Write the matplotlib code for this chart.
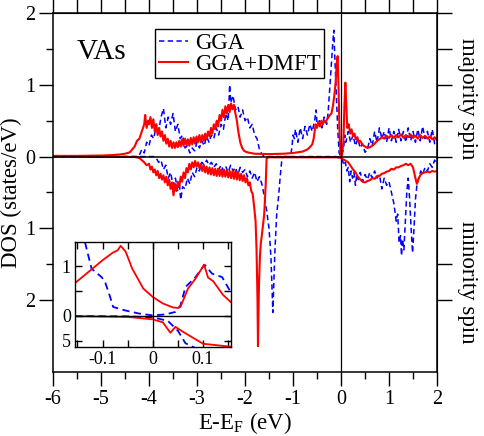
import matplotlib
matplotlib.use("Agg")
import matplotlib.pyplot as plt

plt.rcParams['font.family'] = 'serif'
plt.rcParams['font.serif'] = ['Liberation Serif', 'Times New Roman', 'DejaVu Serif']
plt.rcParams['mathtext.fontset'] = 'custom'
plt.rcParams['mathtext.rm'] = 'Liberation Serif'

# ---- majority spin, GGA (blue dashed)
gga_up_e = [-6.0, -4.25, -4.2, -4.15, -4.1, -4.05, -4.0, -3.95, -3.9, -3.85, -3.8, -3.75,
            -3.7, -3.65, -3.6, -3.55, -3.5, -3.45, -3.4, -3.35, -3.3, -3.25, -3.2, -3.15,
            -3.1, -3.05, -3.0, -2.95, -2.9, -2.85, -2.8, -2.75, -2.7, -2.65, -2.6, -2.55,
            -2.5, -2.45, -2.4, -2.35, -2.32, -2.3, -2.25, -2.2, -2.15, -2.1, -2.05, -2.0,
            -1.95, -1.9, -1.85, -1.8, -1.75, -1.7, -1.65, -1.6, -1.05, -1.02, -1.0, -0.97,
            -0.95, -0.9, -0.85, -0.8, -0.75, -0.7, -0.65, -0.6, -0.55, -0.52, -0.5, -0.45,
            -0.4, -0.35, -0.3, -0.27, -0.24, -0.2, -0.17, -0.15, -0.13, -0.1, -0.07, -0.04,
            0.0, 0.05, 0.08, 0.1, 0.15, 0.2, 0.25, 0.3, 0.35, 0.4, 0.45, 0.5, 0.55, 0.6,
            0.65, 0.7, 0.75, 0.8, 0.85, 0.9, 0.95, 1.0, 1.05, 1.1, 1.15, 1.2, 1.25, 1.3,
            1.35, 1.4, 1.45, 1.5, 1.55, 1.6, 1.65, 1.7, 1.75, 1.8, 1.85, 1.9, 1.95, 2.0]
gga_up_dos = [0.0, 0.0, 0.02, 0.1, 0.05, 0.2, 0.15, 0.3, 0.25, 0.45, 0.35, 0.55,
              0.67, 0.4, 0.55, 0.45, 0.6, 0.35, 0.45, 0.25, 0.3, 0.12, 0.15, 0.05,
              0.12, 0.08, 0.2, 0.12, 0.22, 0.15, 0.28, 0.2, 0.3, 0.25, 0.4, 0.3,
              0.45, 0.38, 0.6, 0.5, 1.0, 0.75, 0.85, 0.65, 0.7, 0.55, 0.65, 0.5,
              0.55, 0.4, 0.45, 0.3, 0.25, 0.1, 0.04, 0.0, 0.0, 0.15, 0.3, 0.25,
              0.38, 0.2, 0.4, 0.25, 0.42, 0.3, 0.45, 0.35, 0.5, 0.65, 0.45, 0.5,
              0.4, 0.55, 0.45, 0.6, 0.9, 1.3, 1.6, 1.76, 1.4, 0.9, 0.4, 0.05,
              0.0, 0.1, 0.3, 0.2, 0.35, 0.2, 0.3, 0.15, 0.25, 0.12, 0.18, 0.06, 0.1, 0.25,
              0.15, 0.35, 0.2, 0.4, 0.25, 0.35, 0.2, 0.4, 0.22, 0.35, 0.2, 0.38, 0.22, 0.35,
              0.2, 0.4, 0.22, 0.35, 0.2, 0.38, 0.22, 0.42, 0.25, 0.35, 0.2, 0.38, 0.18, 0.25]

# ---- majority spin, GGA+DMFT (red)
dmft_up_e = [-6.0, -5.5, -5.0, -4.8, -4.6, -4.5, -4.4, -4.35, -4.3, -4.25, -4.2, -4.15,
             -4.1, -4.08, -4.05, -4.02, -4.0, -3.97, -3.94, -3.91, -3.88, -3.85, -3.82,
             -3.79, -3.76, -3.73, -3.7, -3.67, -3.64, -3.61, -3.58, -3.55, -3.52, -3.49,
             -3.46, -3.43, -3.4, -3.37, -3.34, -3.31, -3.28, -3.25, -3.22, -3.19, -3.16,
             -3.13, -3.1, -3.07, -3.04, -3.01, -2.98, -2.95, -2.92, -2.89, -2.86, -2.83,
             -2.8, -2.77, -2.74, -2.71, -2.68, -2.65, -2.62, -2.59, -2.56, -2.53, -2.5,
             -2.47, -2.44, -2.41, -2.38, -2.35, -2.32, -2.29, -2.26, -2.23, -2.2, -2.17,
             -2.14, -2.1, -2.06, -2.02, -1.96, -1.8, -1.5, -1.2, -1.0, -0.8, -0.7, -0.65,
             -0.6, -0.57, -0.55, -0.53, -0.5, -0.47, -0.44, -0.41, -0.38, -0.35, -0.32,
             -0.29, -0.26, -0.23, -0.2, -0.17, -0.14, -0.11, -0.09, -0.07, -0.05, -0.03,
             -0.01, 0.02, 0.05, 0.07, 0.09, 0.11, 0.13, 0.16, 0.19, 0.22, 0.25, 0.28,
             0.31, 0.34, 0.37, 0.4, 0.45, 0.5, 0.55, 0.6, 0.65, 0.7, 0.75, 0.8, 0.85,
             0.9, 0.95, 1.0, 1.05, 1.1, 1.15, 1.2, 1.25, 1.3, 1.35, 1.4, 1.45, 1.5,
             1.55, 1.6, 1.65, 1.7, 1.75, 1.8, 1.85, 1.9, 1.95, 2.0]
dmft_up_dos = [0.01, 0.01, 0.015, 0.02, 0.03, 0.04, 0.06, 0.1, 0.14, 0.22, 0.25, 0.35,
               0.45, 0.58, 0.4, 0.5, 0.45, 0.55, 0.4, 0.52, 0.35, 0.45, 0.3,
               0.4, 0.28, 0.35, 0.22, 0.3, 0.18, 0.25, 0.14, 0.22, 0.12, 0.2,
               0.12, 0.2, 0.13, 0.22, 0.14, 0.24, 0.15, 0.25, 0.16, 0.24, 0.15,
               0.26, 0.17, 0.27, 0.18, 0.28, 0.2, 0.3, 0.2, 0.3, 0.22, 0.32,
               0.25, 0.35, 0.28, 0.4, 0.32, 0.45, 0.38, 0.5, 0.42, 0.58, 0.5,
               0.65, 0.55, 0.7, 0.6, 0.72, 0.62, 0.74, 0.66, 0.72, 0.6, 0.5,
               0.35, 0.2, 0.12, 0.08, 0.06, 0.04, 0.035, 0.04, 0.05, 0.07, 0.1, 0.13,
               0.17, 0.25, 0.35, 0.45, 0.4, 0.48, 0.42, 0.5, 0.45, 0.5, 0.48,
               0.52, 0.55, 0.58, 0.6, 0.7, 0.85, 1.05, 1.3, 1.4, 0.9, 0.3,
               0.02, 0.02, 0.2, 0.7, 1.03, 0.7, 0.4, 0.45, 0.32, 0.38, 0.28, 0.32,
               0.24, 0.27, 0.2, 0.22, 0.16, 0.14, 0.12, 0.13, 0.15, 0.18, 0.22, 0.24, 0.27,
               0.25, 0.29, 0.26, 0.3, 0.26, 0.3, 0.27, 0.31, 0.26, 0.3, 0.27, 0.31, 0.26,
               0.29, 0.25, 0.3, 0.26, 0.29, 0.25, 0.28, 0.24, 0.27, 0.23]

# ---- minority spin, GGA (plotted negative)
gga_dn_e = [-6.0, -3.9, -3.85, -3.8, -3.75, -3.7, -3.65, -3.6, -3.55, -3.5, -3.45, -3.4,
            -3.37, -3.34, -3.3, -3.25, -3.2, -3.15, -3.1, -3.05, -3.0, -2.95, -2.9, -2.85,
            -2.8, -2.75, -2.7, -2.65, -2.6, -2.55, -2.5, -2.45, -2.4, -2.35, -2.3, -2.25,
            -2.2, -2.15, -2.1, -2.05, -2.0, -1.95, -1.9, -1.85, -1.8, -1.75, -1.7, -1.65,
            -1.6, -1.55, -1.5, -1.46, -1.42, -1.38, -1.34, -1.3, -1.27, -1.23, -1.2, -0.1,
            -0.05, 0.0, 0.03, 0.06, 0.09, 0.12, 0.15, 0.18, 0.21, 0.24, 0.27, 0.3, 0.33,
            0.36, 0.4, 0.45, 0.5, 0.55, 0.6, 0.65, 0.7, 0.75, 0.8, 0.85, 0.9, 0.95, 1.0,
            1.05, 1.1, 1.15, 1.18, 1.21, 1.24, 1.26, 1.28, 1.31, 1.34, 1.37, 1.4, 1.43,
            1.46, 1.49, 1.52, 1.55, 1.58, 1.62, 1.66, 1.7, 1.75, 1.8, 1.85, 1.9, 1.95, 2.0]
gga_dn_dos = [0.0, 0.0, -0.02, -0.08, -0.05, -0.18, -0.12, -0.3, -0.22, -0.4, -0.3, -0.48,
              -0.35, -0.6, -0.42, -0.45, -0.3, -0.38, -0.22, -0.28, -0.15, -0.2, -0.08, -0.12,
              -0.05, -0.12, -0.08, -0.15, -0.1, -0.18, -0.12, -0.2, -0.14, -0.22, -0.12, -0.2,
              -0.15, -0.25, -0.15, -0.22, -0.18, -0.28, -0.2, -0.3, -0.22, -0.35, -0.28, -0.38,
              -0.55, -0.75, -1.0, -1.4, -2.17, -1.35, -0.8, -0.55, -0.3, -0.02, 0.0, 0.0,
              -0.02, -0.02, -0.05, -0.12, -0.08, -0.2, -0.15, -0.35, -0.2, -0.3, -0.22, -0.4, -0.25,
              -0.32, -0.22, -0.35, -0.25, -0.32, -0.22, -0.3, -0.2, -0.3, -0.25, -0.45, -0.3, -0.4, -0.35,
              -0.5, -0.65, -0.9, -0.8, -1.2, -1.1, -1.38, -1.15, -1.3, -0.9, -0.5, -0.3, -0.6,
              -1.0, -1.34, -1.0, -0.6, -0.4, -0.3, -0.2, -0.25, -0.15, -0.2, -0.1, -0.15, -0.05, -0.1]

# ---- minority spin, GGA+DMFT (plotted negative)
dmft_dn_e = [-6.0, -4.3, -4.2, -4.15, -4.1, -4.05, -4.0, -3.97, -3.94, -3.91, -3.88, -3.85,
             -3.82, -3.79, -3.76, -3.73, -3.7, -3.67, -3.64, -3.61, -3.58, -3.55, -3.52,
             -3.49, -3.46, -3.43, -3.4, -3.37, -3.34, -3.31, -3.28, -3.25, -3.22, -3.19,
             -3.16, -3.13, -3.1, -3.07, -3.04, -3.01, -2.98, -2.95, -2.92, -2.89, -2.86,
             -2.83, -2.8, -2.77, -2.74, -2.71, -2.68, -2.65, -2.62, -2.59, -2.56, -2.53,
             -2.5, -2.47, -2.44, -2.41, -2.38, -2.35, -2.32, -2.29, -2.26, -2.23, -2.2,
             -2.17, -2.14, -2.11, -2.08, -2.05, -2.02, -1.99, -1.96, -1.93, -1.9, -1.87,
             -1.84, -1.81, -1.78, -1.76, -1.74, -1.73, -1.71, -1.69, -1.67, -1.65, -1.63,
             -1.6, -1.57, -1.55, -1.5, -0.05, 0.0, 0.05, 0.1, 0.15, 0.2, 0.25, 0.3, 0.35,
             0.4, 0.45, 0.5, 0.55, 0.6, 0.65, 0.7, 0.75, 0.8, 0.85, 0.9, 0.95, 1.0, 1.05,
             1.1, 1.15, 1.2, 1.25, 1.3, 1.35, 1.4, 1.45, 1.5, 1.55, 1.58, 1.62, 1.66, 1.7,
             1.75, 1.8, 1.85, 1.9, 1.95, 2.0]
dmft_dn_dos = [-0.002, -0.005, -0.02, -0.05, -0.08, -0.12, -0.1, -0.18, -0.14, -0.22, -0.18, -0.26,
               -0.2, -0.3, -0.24, -0.32, -0.26, -0.36, -0.28, -0.4, -0.32, -0.45, -0.36,
               -0.54, -0.38, -0.48, -0.35, -0.42, -0.28, -0.35, -0.22, -0.3, -0.16, -0.22,
               -0.1, -0.18, -0.08, -0.15, -0.06, -0.14, -0.08, -0.16, -0.1, -0.2, -0.12,
               -0.22, -0.14, -0.24, -0.15, -0.25, -0.16, -0.26, -0.17, -0.27, -0.17, -0.27,
               -0.18, -0.28, -0.18, -0.28, -0.19, -0.29, -0.2, -0.3, -0.2, -0.31, -0.2,
               -0.32, -0.22, -0.33, -0.24, -0.34, -0.26, -0.36, -0.3, -0.4, -0.36, -0.48,
               -0.52, -0.7, -0.9, -1.3, -2.0, -2.64, -1.8, -1.4, -1.2, -1.1, -0.98,
               -0.8, -0.4, -0.02, -0.01, -0.01, -0.02, -0.04, -0.06, -0.08, -0.13, -0.18, -0.22, -0.28,
               -0.32, -0.35, -0.36, -0.34, -0.33, -0.3, -0.31, -0.27, -0.27, -0.24, -0.23, -0.21, -0.2, -0.17,
               -0.18, -0.15, -0.15, -0.13, -0.12, -0.1, -0.12, -0.1, -0.15, -0.3, -0.38, -0.3, -0.25, -0.23,
               -0.22, -0.21, -0.22, -0.2, -0.21, -0.2]

# ---- inset, close to E_F
ins_gga_up_e = [-0.135, -0.122, -0.102, -0.095, -0.085, -0.079, -0.055, -0.029, 0.0, 0.025,
                0.045, 0.055, 0.065, 0.085, 0.103, 0.118, 0.138, 0.155]
ins_gga_up_dos = [1.48, 0.95, 0.78, 0.68, 0.38, 0.18, 0.11, 0.05, 0.01, 0.03,
                  0.08, 0.21, 0.58, 0.78, 1.03, 0.85, 0.78, 0.48]
ins_dmft_up_e = [-0.155, -0.1, -0.08, -0.07, -0.064, -0.054, -0.041, -0.019, 0.0, 0.02,
                 0.04, 0.05, 0.055, 0.07, 0.085, 0.102, 0.11, 0.12, 0.14, 0.155]
ins_dmft_up_dos = [0.66, 1.12, 1.27, 1.32, 1.41, 1.29, 0.95, 0.55, 0.38, 0.25,
                   0.17, 0.16, 0.18, 0.55, 0.75, 1.03, 0.77, 0.7, 0.42, 0.28]
ins_gga_dn_e = [-0.155, -0.05, 0.0, 0.03, 0.05, 0.065, 0.085, 0.1]
ins_gga_dn_dos = [0.0, -0.01, -0.03, -0.1, -0.3, -0.55, -0.65, -0.8]
ins_dmft_dn_e = [-0.155, -0.05, 0.0, 0.02, 0.035, 0.045, 0.06, 0.1, 0.155]
ins_dmft_dn_dos = [-0.005, -0.02, -0.07, -0.13, -0.34, -0.22, -0.32, -0.56, -0.62]

blue = '#0000ff'
red = '#ff0000'
dash = (0, (3.5, 2.2))

fig = plt.figure(figsize=(4.85, 4.36), dpi=100)
ax = fig.add_axes([0.1093, 0.1468, 0.7918, 0.8234])

ax.plot(gga_up_e, gga_up_dos, color=blue, lw=1.1, ls=dash, label='GGA')
ax.plot(dmft_up_e, dmft_up_dos, color=red, lw=1.5, label='GGA+DMFT')
ax.plot(gga_dn_e, gga_dn_dos, color=blue, lw=1.1, ls=dash)
ax.plot(dmft_dn_e, dmft_dn_dos, color=red, lw=1.5)
ax.axhline(0, color='black', lw=1.1, zorder=3)
ax.axvline(0, color='black', lw=0.9, zorder=3)

ax.set_xlim(-6, 2)
ax.set_ylim(-3, 2)
ax.set_xticks([-6, -5, -4, -3, -2, -1, 0, 1, 2],
              labels=['-6', '-5', '-4', '-3', '-2', '-1', '0', '1', '2'])
ax.set_xticks([-5.5, -4.5, -3.5, -2.5, -1.5, -0.5, 0.5, 1.5], minor=True)
ax.set_yticks([-2, -1, 0, 1, 2], labels=['2', '1', '0', '1', '2'])
ax.set_yticks([-1.5, -0.5, 0.5, 1.5], minor=True)
ax.tick_params(which='major', direction='out', length=10, width=1, labelsize=14.5, pad=3)
ax.tick_params(which='minor', direction='out', length=5, width=1)
for s in ax.spines.values():
    s.set_linewidth(1.1)

# top and right ticks, all the same length
top = ax.secondary_xaxis('top')
top.set_xticks([-6, -5.5, -5, -4.5, -4, -3.5, -3, -2.5, -2, -1.5, -1, -0.5, 0, 0.5, 1, 1.5, 2])
top.tick_params(direction='out', length=10, width=1, labeltop=False)
right = ax.secondary_yaxis('right')
right.set_yticks([-2, -1.5, -1, -0.5, 0, 0.5, 1, 1.5, 2])
right.tick_params(direction='out', length=11, width=1, labelright=False)

ax.set_xlabel('E-E$_\\mathrm{F}$ (eV)', fontsize=16.5, labelpad=1)
ax.set_ylabel('DOS (states/eV)', fontsize=16.5, labelpad=2)
fig.text(468 / 485, 1 - 99 / 436, 'majority spin', rotation=-90, fontsize=16.5,
         ha='center', va='center')
fig.text(468 / 485, 1 - 282 / 436, 'minority spin', rotation=-90, fontsize=16.5,
         ha='center', va='center')

ax.text(-5.5, 1.45, 'VAs', fontsize=21, ha='left', va='center')

leg = ax.legend(loc='upper left', bbox_to_anchor=(0.266, 0.955), borderaxespad=0,
                fontsize=16.5, handlelength=1.3, handletextpad=0.3, labelspacing=0.0,
                borderpad=0.15, fancybox=False, framealpha=1, edgecolor='black')
leg.get_frame().set_linewidth(1.0)

# inset
ins = fig.add_axes([0.1546, 0.2048, 0.321, 0.2394])
ins.plot(ins_gga_up_e, ins_gga_up_dos, color=blue, lw=1.3, ls=(0, (4, 2.5)))
ins.plot(ins_dmft_up_e, ins_dmft_up_dos, color=red, lw=1.3)
ins.plot(ins_gga_dn_e, ins_gga_dn_dos, color=blue, lw=1.3, ls=(0, (4, 2.5)))
ins.plot(ins_dmft_dn_e, ins_dmft_dn_dos, color=red, lw=1.3)
ins.axhline(0, color='black', lw=1.0, zorder=3)
ins.axvline(0, color='black', lw=0.9, zorder=3)
ins.set_xlim(-0.155, 0.155)
ins.set_ylim(-0.62, 1.48)
ins.set_xticks([-0.1, 0, 0.1], labels=['-0.1', '0', '0.1'])
ins.set_xticks([-0.15, -0.05, 0.05, 0.15], minor=True)
ins.set_yticks([-0.5, 0, 1], labels=['5', '0', '1'])
ins.set_yticks([0.5], minor=True)
ins.tick_params(which='both', direction='in', length=5, width=1, top=True, right=True,
                labelsize=13, pad=3)
for s in ins.spines.values():
    s.set_linewidth(1.0)

fig.savefig('out.png', dpi=100)
